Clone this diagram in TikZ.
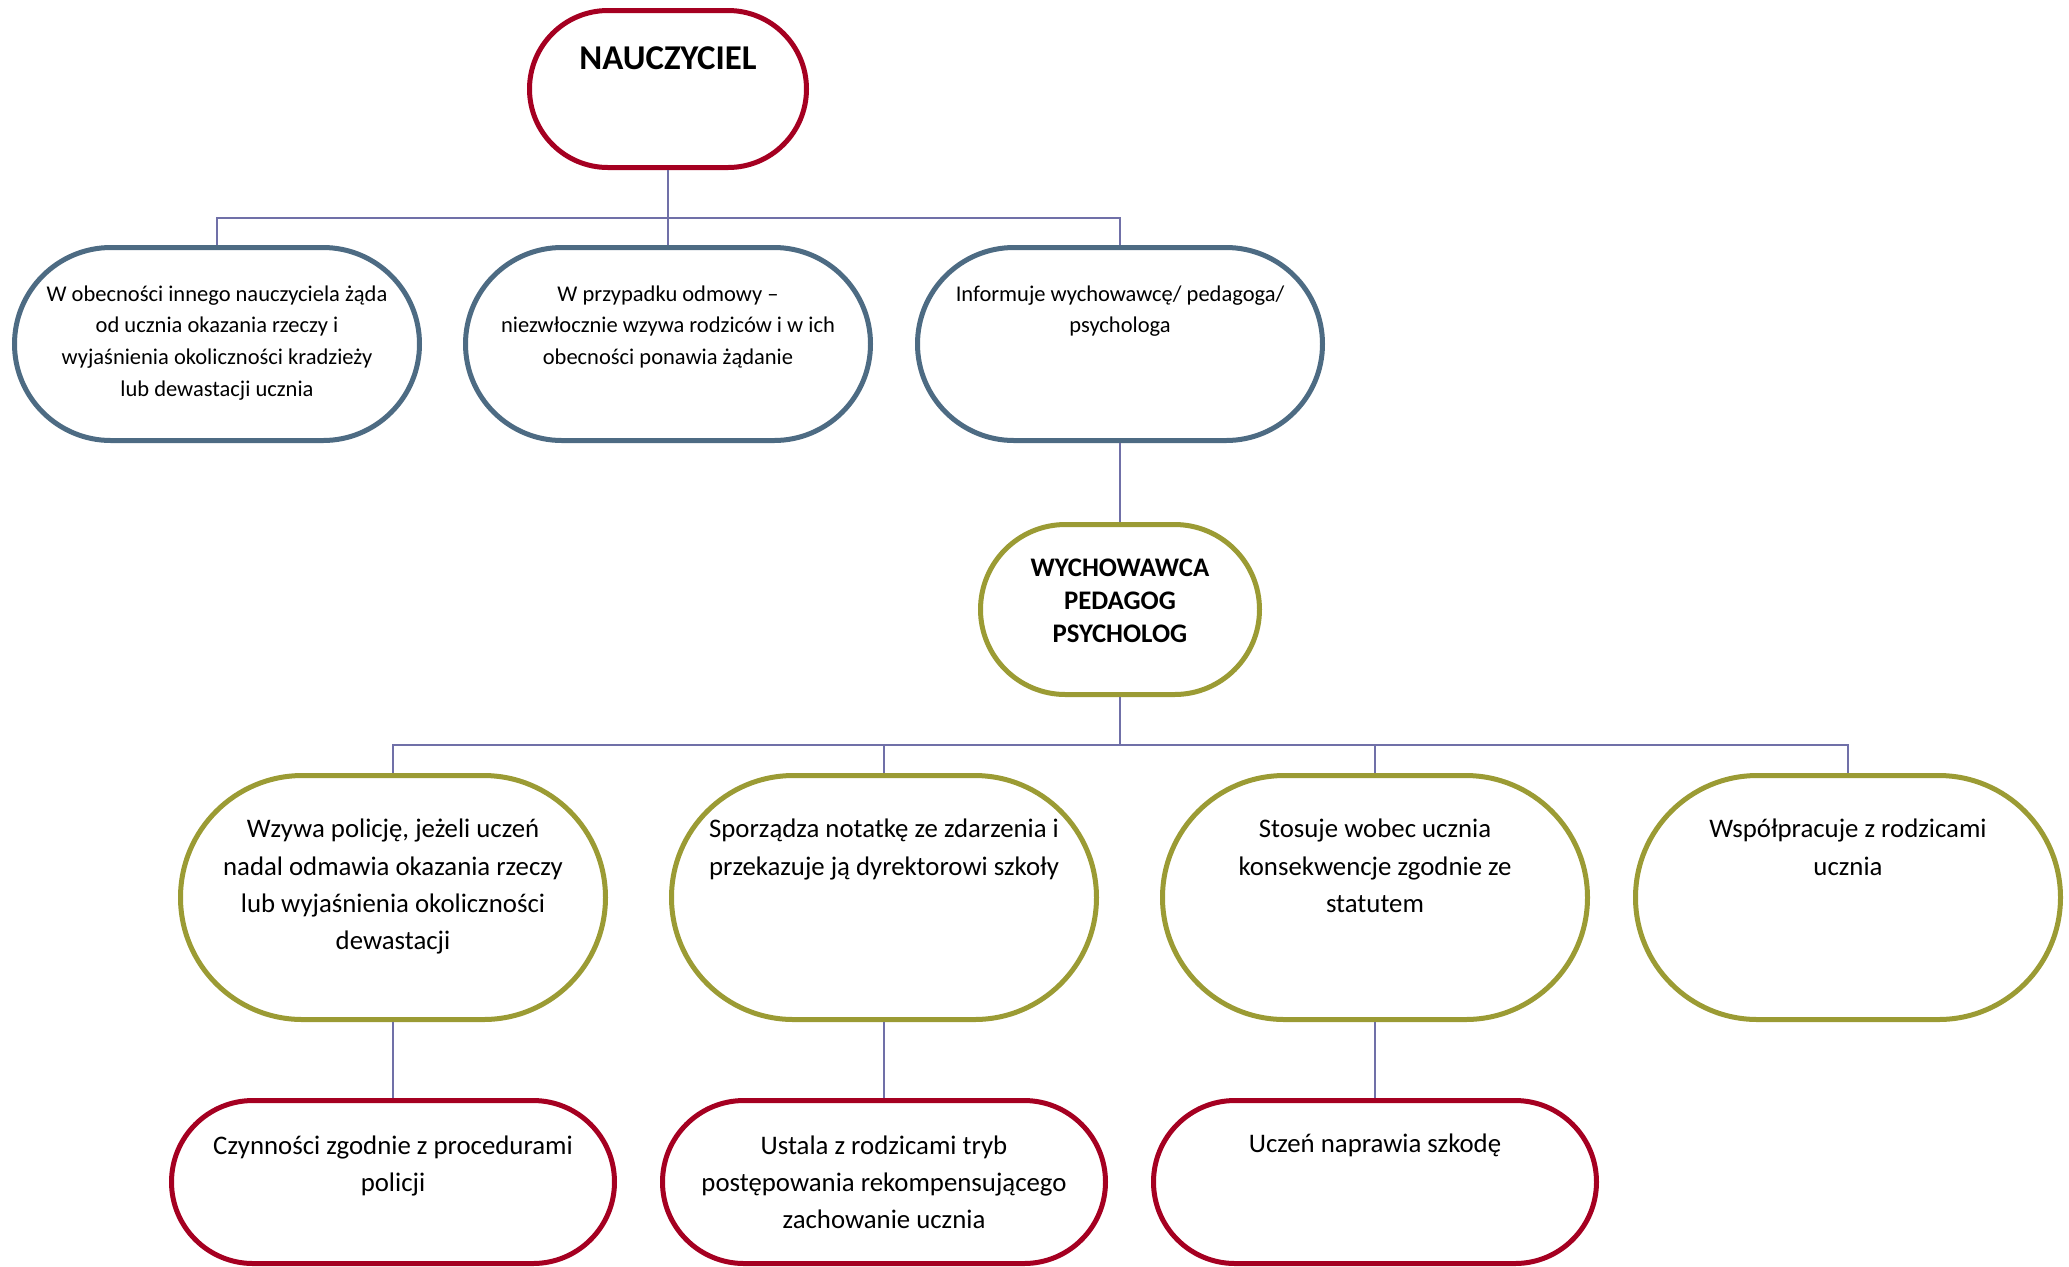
\documentclass[tikz,border=0pt]{standalone}
\usepackage{fontspec}
\setmainfont{Carlito}

\tikzset{every picture/.style={line width=0.75pt}}

\tikzset{
  redbox/.style={draw={rgb, 255:red, 165; green, 0; blue, 33 }, line width=2.5pt},
  bluebox/.style={draw={rgb, 255:red, 77; green, 107; blue, 131 }, line width=2.5pt},
  olivebox/.style={draw={rgb, 255:red, 155; green, 155; blue, 52 }, line width=2.5pt},
  conn/.style={draw={rgb, 255:red, 112; green, 112; blue, 168 }, line width=0.75pt},
  txtsmall/.style={anchor=north, inner sep=0pt, align=center, font=\fontsize{11.25}{15.8}\selectfont, execute at begin node=\strut},
  txtbig/.style={anchor=north, inner sep=0pt, align=center, font=\fontsize{13.4}{18.6}\selectfont, execute at begin node=\strut},
}

\begin{document}
\begin{tikzpicture}[x=0.5pt,y=0.5pt,yscale=-1,xscale=1]
%set diagram to 2069 x 1266
\useasboundingbox (0,0) rectangle (2069,1266);

%Shape: Rounded Rectangle [id:naucz]
\node [redbox, minimum width=138.5pt, minimum height=78.5pt, rounded corners=39.25pt] (naucz) at (668,89) {};

%Shape: Rounded Rectangle [id:b1]
\node [bluebox, minimum width=202.5pt, minimum height=96.5pt, rounded corners=48.25pt] (b1) at (217,344) {};
%Shape: Rounded Rectangle [id:b2]
\node [bluebox, minimum width=202.5pt, minimum height=96.5pt, rounded corners=48.25pt] (b2) at (668,344) {};
%Shape: Rounded Rectangle [id:b3]
\node [bluebox, minimum width=202.5pt, minimum height=96.5pt, rounded corners=48.25pt] (b3) at (1120,344) {};

%Shape: Rounded Rectangle [id:wych]
\node [olivebox, minimum width=139.5pt, minimum height=85pt, rounded corners=42.5pt] (wych) at (1120,609.5) {};

%Shape: Rounded Rectangle [id:c1]
\node [olivebox, minimum width=212.5pt, minimum height=122pt, rounded corners=61pt] (c1) at (393,897.5) {};
%Shape: Rounded Rectangle [id:c2]
\node [olivebox, minimum width=212.5pt, minimum height=122pt, rounded corners=61pt] (c2) at (884,897.5) {};
%Shape: Rounded Rectangle [id:c3]
\node [olivebox, minimum width=212.5pt, minimum height=122pt, rounded corners=61pt] (c3) at (1375,897.5) {};
%Shape: Rounded Rectangle [id:c4]
\node [olivebox, minimum width=212.5pt, minimum height=122pt, rounded corners=61pt] (c4) at (1848,897.5) {};

%Shape: Rounded Rectangle [id:d1]
\node [redbox, minimum width=221.5pt, minimum height=81.5pt, rounded corners=40.75pt] (d1) at (393,1182) {};
%Shape: Rounded Rectangle [id:d2]
\node [redbox, minimum width=221.5pt, minimum height=81.5pt, rounded corners=40.75pt] (d2) at (884,1182) {};
%Shape: Rounded Rectangle [id:d3]
\node [redbox, minimum width=221.5pt, minimum height=81.5pt, rounded corners=40.75pt] (d3) at (1375,1182) {};

%Straight Lines [id:bus1]
\coordinate (bus1) at (668,218);
\draw [conn] (naucz.south) -- (b2.north) ;
\draw [conn] (b1.north) |- (bus1) -| (b3.north) ;
%Straight Lines [id:b3-wych]
\draw [conn] (b3.south) -- (wych.north) ;
%Straight Lines [id:bus2]
\coordinate (bus2) at (1120,745);
\draw [conn] (wych.south) -- (bus2) ;
\draw [conn] (c1.north) |- (bus2) -| (c4.north) ;
\draw [conn] (c2.north) |- (bus2) ;
\draw [conn] (c3.north) |- (bus2) ;
%Straight Lines [id:c-d]
\draw [conn] (c1.south) -- (d1.north) ;
\draw [conn] (c2.south) -- (d2.north) ;
\draw [conn] (c3.south) -- (d3.north) ;

% Text Node
\node [inner sep=0pt, font=\bfseries\fontsize{17.4}{20}\selectfont] (t-naucz) at (668,58) {NAUCZYCIEL};
% Text Node
\node [txtsmall] (t-b1) at (217,285) {W obecności innego nauczyciela żąda\\od ucznia okazania rzeczy i\\wyjaśnienia okoliczności kradzieży\\lub dewastacji ucznia};
% Text Node
\node [txtsmall] (t-b2) at (668,285) {W przypadku odmowy –\\niezwłocznie wzywa rodziców i w ich\\obecności ponawia żądanie};
% Text Node
\node [txtsmall] (t-b3) at (1120,285) {Informuje wychowawcę/ pedagoga/\\psychologa};
% Text Node
\node [inner sep=0pt, align=center, font=\bfseries\fontsize{13.4}{16.5}\selectfont] (t-wych) at (1120,601) {WYCHOWAWCA\\PEDAGOG\\PSYCHOLOG};
% Text Node
\node [txtbig] (t-c1) at (393,818.5) {Wzywa policję, jeżeli uczeń\\nadal odmawia okazania rzeczy\\lub wyjaśnienia okoliczności\\dewastacji};
% Text Node
\node [txtbig] (t-c2) at (884,818.5) {Sporządza notatkę ze zdarzenia i\\przekazuje ją dyrektorowi szkoły};
% Text Node
\node [txtbig] (t-c3) at (1375,818.5) {Stosuje wobec ucznia\\konsekwencje zgodnie ze\\statutem};
% Text Node
\node [txtbig] (t-c4) at (1848,818.5) {Współpracuje z rodzicami\\ucznia};
% Text Node
\node [txtbig] (t-d1) at (393,1135) {Czynności zgodnie z procedurami\\policji};
% Text Node
\node [txtbig] (t-d2) at (884,1135) {Ustala z rodzicami tryb\\postępowania rekompensującego\\zachowanie ucznia};
% Text Node
\node [txtbig] (t-d3) at (1375,1126) {Uczeń naprawia szkodę};

\end{tikzpicture}
\end{document}
